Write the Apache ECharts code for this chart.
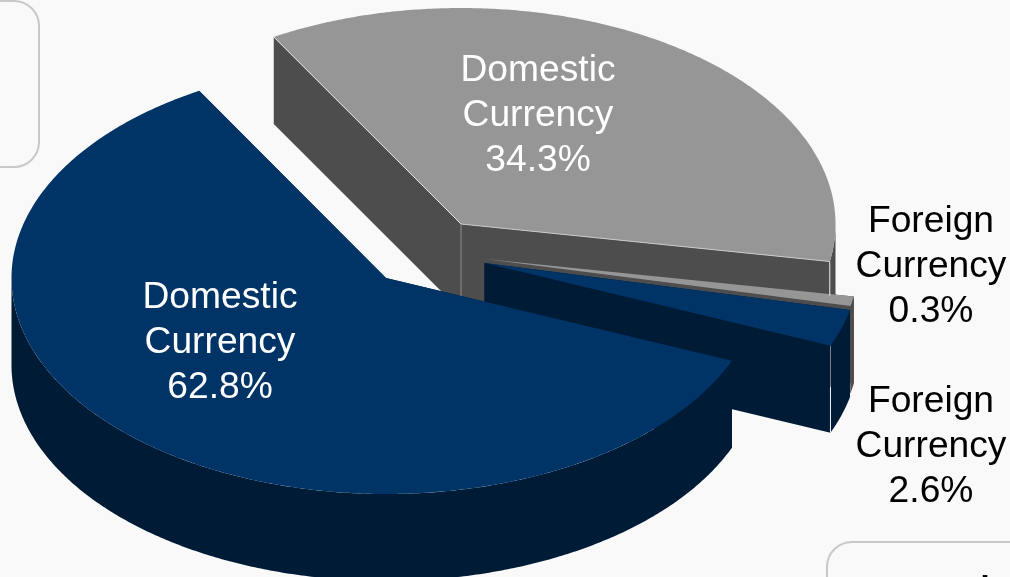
<!DOCTYPE html>
<html>
<head>
<meta charset="utf-8">
<style>
  html, body { margin: 0; padding: 0; background: #f9f9f9; }
  #chart { width: 1010px; height: 577px; }
</style>
<script src="https://cdn.jsdelivr.net/npm/echarts@6/dist/echarts.min.js"></script>
</head>
<body>
<div id="chart"></div>
<script>
// Slices in clockwise drawing order, back to front.
const categories = ['Domestic Currency', 'Foreign Currency', 'Foreign Currency', 'Domestic Currency'];
const shares = [34.3, 0.3, 2.6, 62.8];
const shareLabels = ['34.3%', '0.3%', '2.6%', '62.8%'];

// Projection of the tilted disc.
const RX = 374.5, RY = 216, DEPTH = 87, START_ANGLE = -30;
// Foreshortening applied to each slice's sweep by the 3D view.
const sweepGain = [1.0528, 2.4, 1.06, 0.9623];
// Exploded apex of each slice.
const apexes = [[461, 224], [485, 259], [484.5, 263], [386, 278]];
const topColors = ['#969696', '#969696', '#003366', '#003366'];
const sideColors = ['#4d4d4d', '#4d4d4d', '#001b36', '#001b36'];
const labelSpots = [[538, 115.5], [931, 267], [931, 447], [220, 342.5]];
const labelColors = ['#ffffff', '#000000', '#000000', '#ffffff'];

// Boundaries of every slice, clockwise from twelve o'clock, in degrees.
const bounds = [];
shares.reduce((from, share, i) => {
  const to = from + share * 3.6 * sweepGain[i];
  bounds.push([from, to]);
  return to;
}, START_ANGLE);

function rimPoint(apex, deg, drop) {
  const r = deg * Math.PI / 180;
  return [apex[0] + RX * Math.sin(r), apex[1] - RY * Math.cos(r) + drop];
}

function arcPoints(apex, from, to, drop) {
  const pts = [];
  const steps = Math.max(2, Math.ceil(Math.abs(to - from) * 2));
  for (let k = 0; k <= steps; k++) pts.push(rimPoint(apex, from + (to - from) * k / steps, drop));
  return pts;
}

function wallPolygon(apex, deg, fill) {
  const e = rimPoint(apex, deg, 0);
  return {
    type: 'polygon',
    shape: { points: [apex, e, [e[0], e[1] + DEPTH], [apex[0], apex[1] + DEPTH]] },
    style: { fill: fill, stroke: null }
  };
}

function renderSlice(params, api) {
  const i = params.dataIndex;
  const apex = apexes[i];
  const from = bounds[i][0], to = bounds[i][1];
  const children = [wallPolygon(apex, from, sideColors[i]), wallPolygon(apex, to, sideColors[i])];

  // Only the near half of the rim faces the viewer.
  const a = Math.max(from, 90), b = Math.min(to, 270);
  if (a < b) {
    const upper = arcPoints(apex, a, b, 0);
    const lower = arcPoints(apex, a, b, DEPTH).reverse();
    children.push({
      type: 'polygon',
      shape: { points: upper.concat(lower) },
      style: { fill: sideColors[i], stroke: null }
    });
  }

  children.push({
    type: 'polygon',
    shape: { points: [apex].concat(arcPoints(apex, from, to, 0)) },
    style: { fill: topColors[i], stroke: null }
  });

  return { type: 'group', children: children };
}

// Light seams where the slice faces meet.
function renderSeams(params, api) {
  const g = apexes[0];
  const startEdge = rimPoint(g, bounds[0][0], 0);
  const endEdge = rimPoint(g, bounds[0][1], 0);
  const f = apexes[2];
  const fEdge = rimPoint(f, bounds[2][1], 0);
  const seam = (x1, y1, x2, y2, color) => ({
    type: 'line',
    shape: { x1, y1, x2, y2 },
    style: { stroke: color, lineWidth: 1 }
  });
  return {
    type: 'group',
    children: [
      seam(startEdge[0], startEdge[1], g[0], g[1], '#e4e4e4'),
      seam(g[0], g[1], endEdge[0], endEdge[1], '#c8c8c8'),
      seam(g[0], g[1], g[0], g[1] + 72, '#8c8c8c'),
      seam(endEdge[0], endEdge[1], endEdge[0], endEdge[1] + 34, '#e8e8e8'),
      seam(fEdge[0], fEdge[1], fEdge[0], fEdge[1] + 41, '#808080'),
      seam(fEdge[0], fEdge[1] + 41, fEdge[0], fEdge[1] + DEPTH, '#f4f4f4')
    ]
  };
}

function renderLabel(params, api) {
  const i = params.dataIndex;
  const words = categories[i].split(' ');
  return {
    type: 'text',
    style: {
      x: labelSpots[i][0],
      y: labelSpots[i][1],
      text: words.join('\n') + '\n' + shareLabels[i],
      fill: labelColors[i],
      font: '37.2px "Liberation Sans", Arial, sans-serif',
      lineHeight: 45,
      align: 'center',
      verticalAlign: 'middle'
    }
  };
}

const chart = echarts.init(document.getElementById('chart'), null, { renderer: 'canvas' });
chart.setOption({
  animation: false,
  backgroundColor: '#f9f9f9',
  graphic: [
    {
      type: 'rect',
      shape: { x: -40, y: 1, width: 79, height: 166, r: 25 },
      style: { fill: 'none', stroke: '#c8c8c8', lineWidth: 2 }
    },
    {
      type: 'rect',
      shape: { x: 827, y: 542, width: 240, height: 120, r: 25 },
      style: { fill: 'none', stroke: '#c8c8c8', lineWidth: 2 }
    },
    {
      type: 'text',
      style: {
        x: 881,
        y: 572.4,
        text: 'Total Debt',
        fill: '#000000',
        font: '52px "Liberation Sans", Arial, sans-serif',
        align: 'left',
        verticalAlign: 'top'
      }
    }
  ],
  series: [
    {
      type: 'custom',
      coordinateSystem: 'none',
      data: shares,
      renderItem: renderSlice,
      silent: true,
      z: 2
    },
    {
      type: 'custom',
      coordinateSystem: 'none',
      data: [0],
      renderItem: renderSeams,
      silent: true,
      z: 3
    },
    {
      type: 'custom',
      coordinateSystem: 'none',
      data: shares,
      renderItem: renderLabel,
      silent: true,
      z: 4
    }
  ]
});
</script>
</body>
</html>
